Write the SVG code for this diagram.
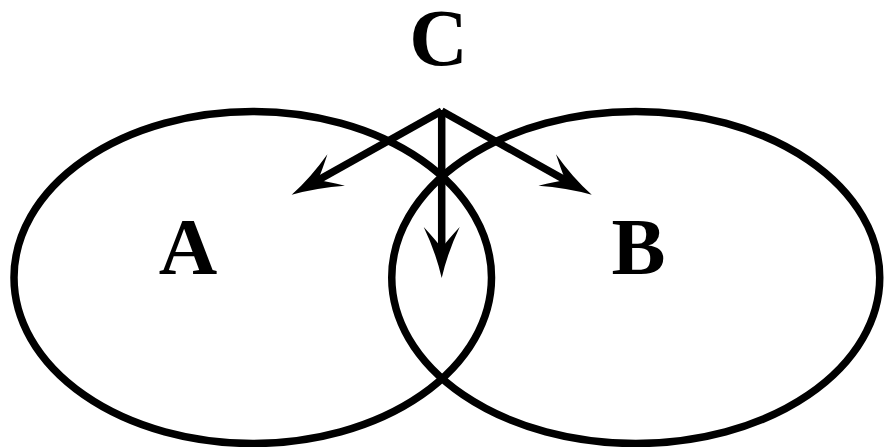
<svg xmlns="http://www.w3.org/2000/svg" width="884" height="447" viewBox="0 0 884 447">
<style>
.set{fill:none;stroke:#000;stroke-width:7.5}
.conn{fill:none;stroke:#000;stroke-width:7.5;stroke-linecap:butt}
.lbl{font-family:"Liberation Serif","Times New Roman",serif;font-weight:bold;font-size:81px;fill:#000;text-anchor:middle}
</style>
<defs>
<marker id="arr" markerUnits="userSpaceOnUse" viewBox="-25 -20 55 40" refX="0" refY="0" markerWidth="55" markerHeight="40" orient="auto" overflow="visible">
<path d="M28 0 Q2 -6 -23 -18 Q-10 -6 -2 0 Q-10 6 -23 18 Q2 6 28 0 Z" fill="#000"/>
</marker>
</defs>
<g id="A">
<ellipse class="set" cx="252.75" cy="277.5" rx="238.75" ry="166"/>
<text class="lbl" x="188" y="274">A</text>
</g>
<g id="B">
<ellipse class="set" cx="635.75" cy="277.5" rx="244" ry="166"/>
<text class="lbl" x="638.5" y="274">B</text>
</g>
<g id="C">
<text class="lbl" x="438.5" y="65">C</text>
</g>
<g id="connectors">
<line class="conn" x1="441.7" y1="111" x2="316.1" y2="181.2" marker-end="url(#arr)"/>
<line class="conn" x1="441.7" y1="111" x2="567.3" y2="181.2" marker-end="url(#arr)"/>
<line class="conn" x1="441.7" y1="110" x2="441.7" y2="250" marker-end="url(#arr)"/>
</g>
</svg>
